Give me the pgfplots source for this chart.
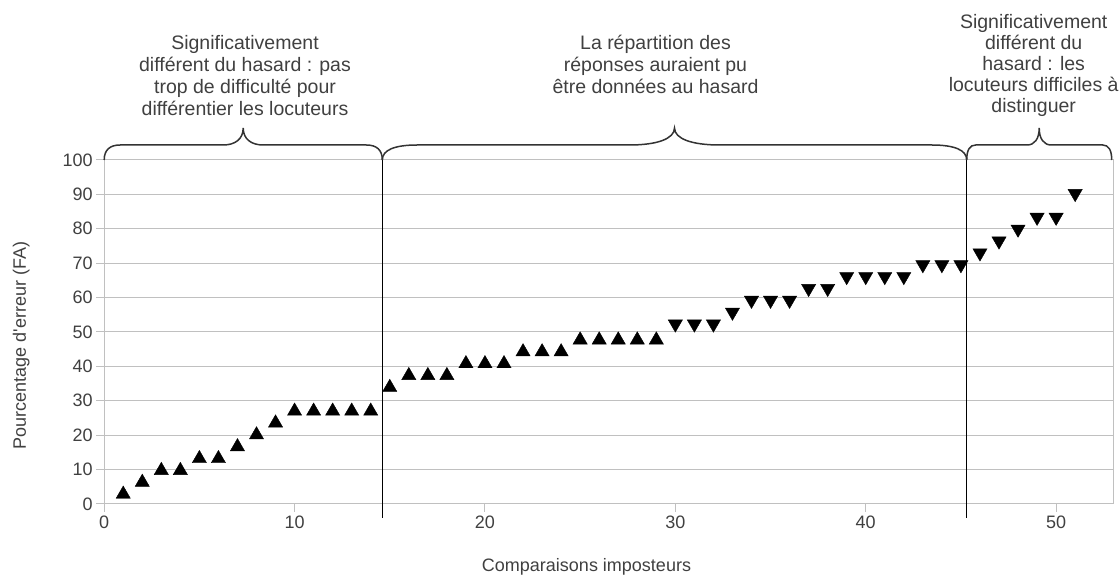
\documentclass[border=0pt]{standalone}
\usepackage{pgfplots}
\usepackage{pgfplotstable}
\pgfplotsset{compat=1.18}
\usepackage{fontspec}
\setmainfont{Liberation Sans}
\definecolor{txt}{RGB}{64,64,64}
\definecolor{gridc}{RGB}{192,192,192}
\definecolor{bracec}{RGB}{51,51,51}

\pgfplotstableread{
x y
1 3.45
2 6.90
3 10.34
4 10.34
5 13.79
6 13.79
7 17.24
8 20.69
9 24.14
10 27.59
11 27.59
12 27.59
13 27.59
14 27.59
15 34.48
16 37.93
17 37.93
18 37.93
19 41.38
20 41.38
21 41.38
22 44.83
23 44.83
24 44.83
25 48.28
26 48.28
27 48.28
28 48.28
29 48.28
}\uptab

\pgfplotstableread{
x y
30 51.72
31 51.72
32 51.72
33 55.17
34 58.62
35 58.62
36 58.62
37 62.07
38 62.07
39 65.52
40 65.52
41 65.52
42 65.52
43 68.97
44 68.97
45 68.97
46 72.41
47 75.86
48 79.31
49 82.76
50 82.76
51 89.66
}\downtab

% x1, x2, xmid, end-curve width, tip-curve width
\newcommand{\mybrace}[5]{%
 \draw[bracec, line width=1.5pt] (#1,344) .. controls (#1,354) and ({#1+0.35*#4},359) .. ({#1+#4},359)
   -- ({#3-#5},359) .. controls ({#3-0.4*#5},359) and (#3,365) .. (#3,376)
   .. controls (#3,365) and ({#3+0.4*#5},359) .. ({#3+#5},359)
   -- ({#2-#4},359) .. controls ({#2-0.35*#4},359) and (#2,354) .. (#2,344);}

\begin{document}
\begin{tikzpicture}
\begin{axis}[
  at={(0pt,0pt)}, anchor=south west,
  scale only axis, width=1009.1pt, height=344pt,
  xmin=0, xmax=53, ymin=0, ymax=100,
  xtick={0,10,...,50}, ytick={0,10,...,100},
  tick pos=left,
  tick align=outside,
  major tick length=8pt,
  tick style={gridc, line width=1pt},
  axis line style={gridc, line width=1pt},
  ymajorgrids, grid style={gridc, line width=1pt},
  tick label style={font=\fontsize{18}{22}\selectfont, text=txt},
  /pgf/number format/assume math mode=true,
  xlabel={Comparaisons imposteurs},
  ylabel={Pourcentage d\textquotesingle erreur (FA)},
  label style={font=\fontsize{18}{22}\selectfont, text=txt},
  xlabel style={at={(axis description cs:0.478,-0.196)}, anchor=base},
  ylabel style={at={(axis description cs:-0.0823,0.461)}, anchor=center},
  clip=false,
  ]
\addplot[only marks, mark=triangle*, mark size=8.2pt, mark options={fill=black, draw=black, yshift=-2.05pt}] table {\uptab};
\addplot[only marks, mark=triangle*, mark size=8.2pt, mark options={fill=black, draw=black, yshift=2.05pt, rotate=180}] table {\downtab};
\draw[black, line width=1.3pt] (axis cs:14.6,100) -- (axis cs:14.6,-4.07);
\draw[black, line width=1.3pt] (axis cs:45.3,100) -- (axis cs:45.3,-4.07);
\end{axis}
\begin{scope}[x=1pt,y=1pt]
\mybrace{0}{278.1}{139}{16}{20}
\mybrace{278.1}{862.5}{570.3}{35}{45}
\mybrace{862.5}{1007.5}{935}{9}{12}
\begin{scope}[every node/.style={font=\fontsize{19.5}{23}\selectfont, text=txt, anchor=base, inner sep=0pt}]
\node at (140.8,454.3) {Significativement};
\node at (140.8,432.3) {différent du hasard : pas};
\node at (140.8,410.3) {trop de difficulté pour};
\node at (140.8,388.3) {différentier les locuteurs};
\node at (551.3,454.5) {La répartition des};
\node at (551.3,432.3) {réponses auraient pu};
\node at (551.3,410.3) {être données au hasard};
\node at (929.5,475.7) {Significativement};
\node at (929.5,454.7) {différent du};
\node at (929.5,433.3) {hasard : les};
\node at (929.5,412.3) {locuteurs difficiles à};
\node at (929.5,391.3) {distinguer};
\end{scope}
\end{scope}
\pgfresetboundingbox
\path[use as bounding box] (-104.2pt,-71pt) rectangle (1015.8pt,504pt);
\end{tikzpicture}
\end{document}
